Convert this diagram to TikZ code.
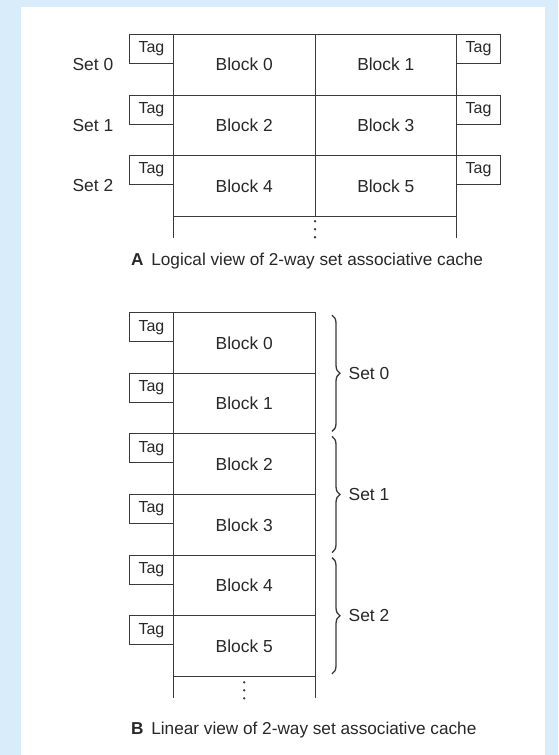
\documentclass[tikz,border=0pt]{standalone}
\usepackage{fontspec}
\setmainfont{Liberation Sans}
\usetikzlibrary{positioning,decorations.pathreplacing}
\definecolor{bgblue}{RGB}{216,237,249}
\definecolor{ink}{RGB}{58,58,58}
\definecolor{txt}{RGB}{40,40,40}

\begin{document}
\begin{tikzpicture}[
  x=1pt, y=1pt, color=ink,
  node distance=0pt,
  blk/.style={draw, line width=1pt, minimum width=141.6pt, minimum height=60.6pt,
              inner sep=0pt, outer sep=0pt, text=txt, font=\fontsize{17.4}{20}\selectfont},
  tag/.style={draw, line width=1pt, minimum width=44pt, minimum height=29pt,
              inner sep=0pt, outer sep=0pt, text=txt, font=\fontsize{16}{18}\selectfont},
  lbl/.style={inner sep=0pt, text=txt, font=\fontsize{17.4}{20}\selectfont},
  captxt/.style={inner sep=0pt, text=txt, font=\fontsize{17.2}{20}\selectfont},
  rail/.style={line width=1pt},
  brc/.style={line width=1.3pt, decorate, decoration={brace, amplitude=8pt}}
]
% page and panel
\fill[bgblue] (0,0) rectangle (558,-755);
\fill[white] (21,-7) rectangle (545,-755);
\useasboundingbox (0,0) rectangle (558,-755);

% A: logical view
\node[blk] (a0) at (244.2,-64.7) {Block 0};
\node[blk, right=of a0] (a1) {Block 1};
\node[blk, below=of a0] (a2) {Block 2};
\node[blk, right=of a2] (a3) {Block 3};
\node[blk, below=of a2] (a4) {Block 4};
\node[blk, right=of a4] (a5) {Block 5};
\node[tag, anchor=north east] (ta0) at (a0.north west) {Tag};
\node[tag, anchor=north west] (ta1) at (a1.north east) {Tag};
\node[tag, anchor=north east] (ta2) at (a2.north west) {Tag};
\node[tag, anchor=north west] (ta3) at (a3.north east) {Tag};
\node[tag, anchor=north east] (ta4) at (a4.north west) {Tag};
\node[tag, anchor=north west] (ta5) at (a5.north east) {Tag};
\node[lbl, anchor=east, xshift=-16pt] (sa0) at (ta0.west |- a0.west) {Set 0};
\node[lbl, anchor=east, xshift=-16pt] (sa1) at (ta2.west |- a2.west) {Set 1};
\node[lbl, anchor=east, xshift=-16pt] (sa2) at (ta4.west |- a4.west) {Set 2};
\draw[rail] (a4.south west) -- ++(0,-22);
\draw[rail] (a5.south east) -- ++(0,-22);
\foreach \dy in {5,13,21}
  \fill (a5.south west) ++(0,-\dy) circle (1.3pt);
\node[captxt, anchor=west] (capA) at (131,-261)
  {\textbf{A}\hspace{0.45em}Logical view of 2-way set associative cache};

% B: linear view
\node[blk] (b0) at (244.2,-343) {Block 0};
\node[blk, below=of b0] (b1) {Block 1};
\node[blk, below=of b1] (b2) {Block 2};
\node[blk, below=of b2] (b3) {Block 3};
\node[blk, below=of b3] (b4) {Block 4};
\node[blk, below=of b4] (b5) {Block 5};
\node[tag, anchor=north east] (tb0) at (b0.north west) {Tag};
\node[tag, anchor=north east] (tb1) at (b1.north west) {Tag};
\node[tag, anchor=north east] (tb2) at (b2.north west) {Tag};
\node[tag, anchor=north east] (tb3) at (b3.north west) {Tag};
\node[tag, anchor=north east] (tb4) at (b4.north west) {Tag};
\node[tag, anchor=north east] (tb5) at (b5.north west) {Tag};
\draw[brc] ([xshift=17pt,yshift=-2.5pt]b0.north east) -- ([xshift=17pt,yshift=2.5pt]b1.south east)
  node[lbl, midway, right=16pt] (sb0) {Set 0};
\draw[brc] ([xshift=17pt,yshift=-2.5pt]b2.north east) -- ([xshift=17pt,yshift=2.5pt]b3.south east)
  node[lbl, midway, right=16pt] (sb1) {Set 1};
\draw[brc] ([xshift=17pt,yshift=-2.5pt]b4.north east) -- ([xshift=17pt,yshift=2.5pt]b5.south east)
  node[lbl, midway, right=16pt] (sb2) {Set 2};
\draw[rail] (b5.south west) -- ++(0,-22);
\draw[rail] (b5.south east) -- ++(0,-22);
\foreach \dy in {6,14,22}
  \fill (b5.south) ++(0,-\dy) circle (1.3pt);
\node[captxt, anchor=west] (capB) at (131,-730)
  {\textbf{B}\hspace{0.45em}Linear view of 2-way set associative cache};
\end{tikzpicture}
\end{document}
